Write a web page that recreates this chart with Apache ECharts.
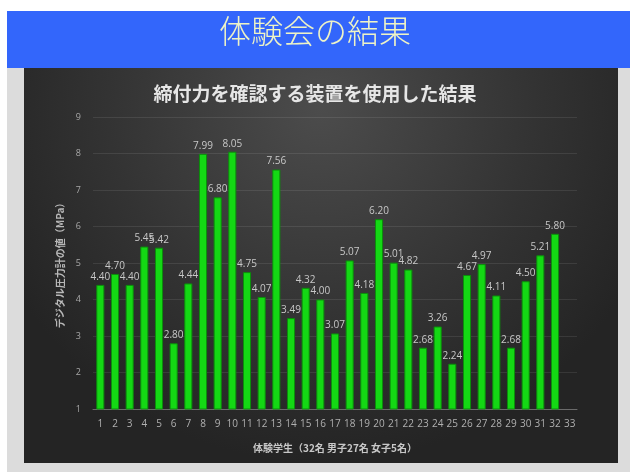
<!DOCTYPE html>
<html><head><meta charset="utf-8">
<script src="https://cdn.jsdelivr.net/npm/echarts@6/dist/echarts.min.js"></script>
<style>html,body{margin:0;padding:0;background:#fff}#c{width:630px;height:476px}</style>
</head><body><div id="c"></div>
<script>
const pageTitle = '体験会の結果';
const chartTitle = '締付力を確認する装置を使用した結果';
const xName = '体験学生（32名 男子27名 女子5名）';
const yName = 'デジタル圧力計の値（MPa）';
const categories = ['1','2','3','4','5','6','7','8','9','10','11','12','13','14','15','16','17','18','19','20','21','22','23','24','25','26','27','28','29','30','31','32','33'];
const values = [4.40,4.70,4.40,5.45,5.42,2.80,4.44,7.99,6.80,8.05,4.75,4.07,7.56,3.49,4.32,4.00,3.07,5.07,4.18,6.20,5.01,4.82,2.68,3.26,2.24,4.67,4.97,4.11,2.68,4.50,5.21,5.80,null];
const yMin = 1, yMax = 9, yStep = 1;

const font = '"Noto Sans CJK JP", "Noto Sans", sans-serif';
const numFont = '"Open Sans", "Noto Sans", sans-serif';
const chart = echarts.init(document.getElementById('c'));
chart.setOption({
  backgroundColor: '#ffffff',
  animation: false,
  textStyle: {fontFamily: font},
  graphic: [
    {type:'rect', z:-10, shape:{x:7,y:68,width:623,height:404}, style:{fill:'#dcdcdc'}},
    {type:'rect', z:-9, shape:{x:7,y:11,width:623,height:57}, style:{fill:'#3366fb'}},
    {type:'rect', z:-8, shape:{x:24,y:68,width:594,height:395},
      style:{fill:{type:'radial', x:0.5, y:0.1, r:0.9, colorStops:[{offset:0,color:'#4c4c4c'},{offset:0.6,color:'#333333'},{offset:1,color:'#242424'}]}}},
    {type:'text', left:'center', top:15, style:{text:pageTitle, fill:'#eef3c6', font:'300 32px ' + font}}
  ],
  title: {
    text: chartTitle, left: 'center', top: 79,
    textStyle: {color:'#e6e6e6', fontSize:19, fontWeight:'bold', fontFamily: font}
  },
  grid: {left:93, right:53, top:117, bottom:67},
  xAxis: {
    type:'category', data: categories,
    name: xName, nameLocation:'middle', nameGap:34,
    nameTextStyle:{color:'#c8c8c8', fontSize:10, fontWeight:'bold'},
    axisLine:{lineStyle:{color:'#6a6a6a'}},
    axisTick:{show:false},
    axisLabel:{color:'#b0b0b0', fontSize:10, margin:10, interval:0, fontFamily: numFont}
  },
  yAxis: {
    type:'value', min:yMin, max:yMax, interval:yStep,
    name: yName, nameLocation:'middle', nameGap:25, nameRotate:90,
    nameTextStyle:{color:'#b8b8b8', fontSize:10, fontWeight:'bold'},
    axisLine:{show:false}, axisTick:{show:false},
    axisLabel:{color:'#a8a8a8', fontSize:9, margin:12, fontFamily: numFont},
    splitLine:{lineStyle:{color:'rgba(255,255,255,0.09)'}}
  },
  series: [{
    type:'bar', data: values, barWidth:'55%',
    itemStyle:{color:'#14d814', borderColor:'#0b8f0b', borderWidth:1},
    label:{show:true, position:'top', color:'#c8c8c8', fontSize:10, distance:3, fontFamily: numFont,
      formatter: p => p.value == null ? '' : Number(p.value).toFixed(2)}
  }]
});
</script></body></html>
